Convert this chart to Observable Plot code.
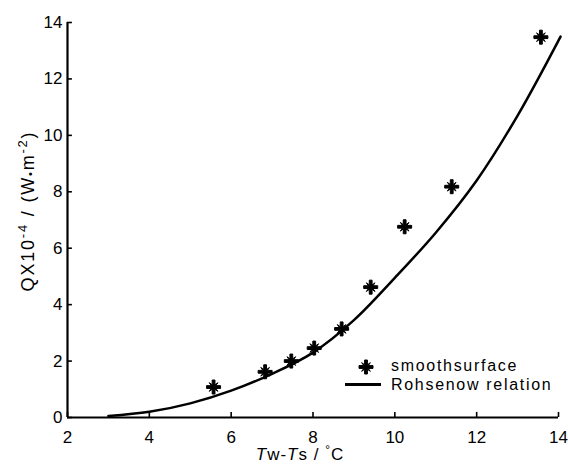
<!DOCTYPE html>
<html><head><meta charset="utf-8">
<script src="https://cdn.jsdelivr.net/npm/d3@7"></script>
<script src="https://cdn.jsdelivr.net/npm/@observablehq/plot@0.6"></script>
<style>
body{margin:0;background:#fff;}
#wrap{position:relative;width:568px;height:465px;font-family:"Liberation Sans",Arial,sans-serif;}
.leg{position:absolute;font-size:16px;letter-spacing:1.7px;color:#000;line-height:16px;white-space:nowrap;}
</style></head><body><div id="wrap"></div>
<script>
const xTicks = [2, 4, 6, 8, 10, 12, 14];
const yTicks = [0, 2, 4, 6, 8, 10, 12, 14];
const smoothX = [5.57, 6.83, 7.47, 8.03, 8.70, 9.41, 10.24, 11.39, 13.57];
const smoothY = [1.08, 1.62, 2.00, 2.46, 3.14, 4.62, 6.76, 8.18, 13.48];
const rohX = [3.0, 4, 5, 6, 7, 8, 9, 10, 11, 12, 13, 14.05];
const rohY = [0.05, 0.2, 0.5, 0.95, 1.55, 2.3, 3.45, 4.95, 6.55, 8.4, 10.7, 13.5];
const seriesNames = ["smoothsurface", "Rohsenow relation"];

const smooth = smoothX.map((x, i) => ({x, y: smoothY[i]}));
const roh = rohX.map((x, i) => ({x, y: rohY[i]}));

const star = {draw(ctx, size) {
  const R = Math.sqrt(size / Math.PI), a = R * 0.2;
  ctx.moveTo(a, -R); ctx.lineTo(a, -a * 1.6); ctx.lineTo(R * 0.62, -R * 0.62); ctx.lineTo(a * 1.6, -a);
  ctx.lineTo(R, -a); ctx.lineTo(R, a); ctx.lineTo(a * 1.6, a); ctx.lineTo(R * 0.62, R * 0.62); ctx.lineTo(a, a * 1.6);
  ctx.lineTo(a, R); ctx.lineTo(-a, R); ctx.lineTo(-a, a * 1.6); ctx.lineTo(-R * 0.62, R * 0.62); ctx.lineTo(-a * 1.6, a);
  ctx.lineTo(-R, a); ctx.lineTo(-R, -a); ctx.lineTo(-a * 1.6, -a); ctx.lineTo(-R * 0.62, -R * 0.62); ctx.lineTo(-a, -a * 1.6);
  ctx.lineTo(-a, -R); ctx.closePath();
}};

const chart = Plot.plot({
  width: 568, height: 465,
  marginLeft: 67, marginRight: 10, marginTop: 22, marginBottom: 48,
  style: {fontFamily: '"Liberation Sans", Arial, sans-serif', fontSize: "17px", background: "#fff", color: "#000"},
  x: {domain: [2, 14]},
  y: {domain: [0, 14]},
  marks: [
    Plot.axisX(xTicks, {tickSize: 0, tickPadding: 13, label: null, letterSpacing: 1}),
    Plot.axisY(yTicks, {tickSize: 0, tickPadding: 5, label: null, letterSpacing: 1}),
    Plot.ruleX(xTicks, {x: d => d, y1: 0, y2: 0.18, stroke: "#000", strokeWidth: 1.6}),
    Plot.ruleY(yTicks, {y: d => d, x1: 2, x2: 2.12, stroke: "#000", strokeWidth: 1.6}),
    Plot.ruleX([2], {strokeWidth: 2.2}),
    Plot.ruleY([0], {strokeWidth: 2.2}),
    Plot.line(roh, {x: "x", y: "y", curve: "catmull-rom", strokeWidth: 2.5, stroke: "#000"}),
    Plot.dot(smooth, {x: "x", y: "y", symbol: star, r: 7, fill: "#000", stroke: "#000", strokeWidth: 1})
  ]
});

const svg = d3.select(chart);
// y label
const yl = svg.append("text")
  .attr("transform", "translate(34,211) rotate(-90)")
  .attr("text-anchor", "middle")
  .attr("font-size", 18).attr("letter-spacing", 1.8).attr("fill", "#000");
yl.append("tspan").text("QX10");
yl.append("tspan").attr("font-size", 13).attr("dy", -7).text("-4");
yl.append("tspan").attr("dy", 7).text(" / (W");
yl.append("tspan").attr("font-size", 11).text("•");
yl.append("tspan").text("m");
yl.append("tspan").attr("font-size", 13).attr("dy", -7).text("-2");
yl.append("tspan").attr("dy", 7).text(")");
// x label
const xl = svg.append("text")
  .attr("x", 300).attr("y", 460)
  .attr("text-anchor", "middle")
  .attr("font-size", 17).attr("letter-spacing", 1).attr("fill", "#000");
xl.append("tspan").attr("font-style", "italic").text("T");
xl.append("tspan").text("w-");
xl.append("tspan").attr("font-style", "italic").text("T");
xl.append("tspan").text("s / ");
xl.append("tspan").attr("font-size", 12).attr("dy", -6).text("°");
xl.append("tspan").attr("dy", 6).text("C");

const wrap = document.getElementById("wrap");
wrap.appendChild(chart);

// legend
const l1m = document.createElement("div");
l1m.className = "leg"; l1m.style.left = "358px"; l1m.style.top = "359px";
l1m.innerHTML = '<svg width="16" height="16"><path transform="translate(8,8)" d="' + d3.symbol(star, 7 * 7 * Math.PI)() + '" fill="#000" stroke="#000"/></svg>';
wrap.appendChild(l1m);
const l1 = document.createElement("div");
l1.className = "leg"; l1.style.left = "391px"; l1.style.top = "358px"; l1.textContent = seriesNames[0];
wrap.appendChild(l1);
const l2m = document.createElement("div");
l2m.style.cssText = "position:absolute;left:345px;top:383px;width:36px;height:2.5px;background:#000;";
wrap.appendChild(l2m);
const l2 = document.createElement("div");
l2.className = "leg"; l2.style.left = "391px"; l2.style.top = "377px"; l2.textContent = seriesNames[1];
wrap.appendChild(l2);
</script></body></html>
